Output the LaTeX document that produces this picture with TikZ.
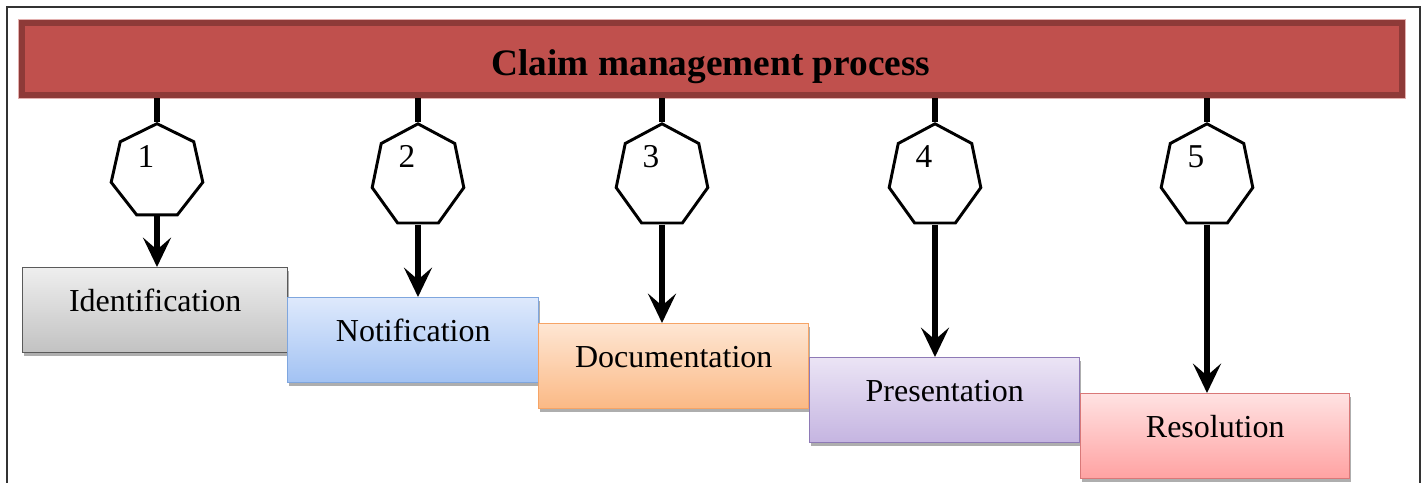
\documentclass[tikz,border=0pt]{standalone}
\usepackage{fontspec}
\setmainfont{Liberation Serif}
\usepackage{xcolor}
\usetikzlibrary{arrows.meta,positioning,shapes.geometric,shadows}
\definecolor{bannerfill}{HTML}{C0504D}
\definecolor{bannerline}{HTML}{8E3A38}
\definecolor{graytop}{HTML}{EEEEEE}
\definecolor{graybot}{HTML}{C2C2C2}
\definecolor{grayline}{HTML}{5A5A5A}
\definecolor{bluetop}{HTML}{DEE9FC}
\definecolor{bluebot}{HTML}{A2C2F3}
\definecolor{blueline}{HTML}{7FA6DE}
\definecolor{orangetop}{HTML}{FEE6D3}
\definecolor{orangebot}{HTML}{FBB985}
\definecolor{orangeline}{HTML}{F6A466}
\definecolor{purpletop}{HTML}{EBE4F5}
\definecolor{purplebot}{HTML}{C5B5E1}
\definecolor{purpleline}{HTML}{8E7AB6}
\definecolor{pinktop}{HTML}{FFE2E2}
\definecolor{pinkbot}{HTML}{FFA2A2}
\definecolor{pinkline}{HTML}{D97878}
\tikzset{
  box/.style={draw, line width=1.1pt, minimum height=63.5pt, inner sep=0pt, text height=0.7em, text depth=0.55em,
    font=\fontsize{24}{28}\selectfont, drop shadow={shadow xshift=0.8pt, shadow yshift=-2.6pt, opacity=0.45, fill=black!70}},
  grybox/.style={box, draw=grayline, top color=graytop, bottom color=graybot},
  blubox/.style={box, draw=blueline, top color=bluetop, bottom color=bluebot},
  orgbox/.style={box, draw=orangeline, top color=orangetop, bottom color=orangebot},
  purbox/.style={box, draw=purpleline, top color=purpletop, bottom color=purplebot},
  pnkbox/.style={box, draw=pinkline, top color=pinktop, bottom color=pinkbot},
  hept/.style={draw, regular polygon, regular polygon sides=7, minimum size=70.5pt, line width=2.2pt, inner sep=0pt, fill=white},
  num/.style={font=\fontsize{25}{30}\selectfont, inner sep=0pt},
  stem/.style={line width=4pt},
  arr/.style={-{Stealth[length=22pt, width=21pt, inset=9pt]}, line width=4pt},
}
\begin{document}
\begin{tikzpicture}[x=0.75pt, y=-0.75pt]
\useasboundingbox (0,0) rectangle (1424,482);
% frame
\draw[line width=1.2pt, black!80] (7,490) |- (1420,7) -- (1420,490);
% banner
\node[draw=bannerline, fill=bannerfill, line width=4.5pt, minimum width=1035pt, minimum height=54pt,
  preaction={draw=bannerfill!45, line width=6.5pt}] (banner) at (712,59) {};
\node[font=\fontsize{28}{32}\selectfont\bfseries, anchor=base] (title) at (711,75) {Claim management process};
% stages
\node[grybox, minimum width=198.75pt, anchor=north west] (b1) at (22,267) {Identification};
\node[blubox, minimum width=188.25pt, anchor=north west] (b2) at (287,297) {Notification};
\node[orgbox, minimum width=202.5pt, anchor=north west] (b3) at (538,323) {Documentation};
\node[purbox, minimum width=202.5pt, anchor=north west] (b4) at (809,357) {Presentation};
\node[pnkbox, minimum width=201.75pt, anchor=north west] (b5) at (1080,393) {Resolution};
% steps
\foreach \i/\x/\s in {1/157/1.02,2/418/1.11,3/662/1.11,4/935/1.11,5/1207/1.11}{
  \node[hept, yscale=\s, transform shape, anchor=north] (h\i) at (\x,122) {};
  \node[num] (n\i) at ([xshift=-8.25pt, yshift=-26pt]h\i.north) {\i};
  \draw[stem] (banner.south -| h\i.north) -- (h\i.north);
  \draw[arr] (h\i.south) -- (h\i.south |- b\i.north);
}
\end{tikzpicture}
\end{document}
